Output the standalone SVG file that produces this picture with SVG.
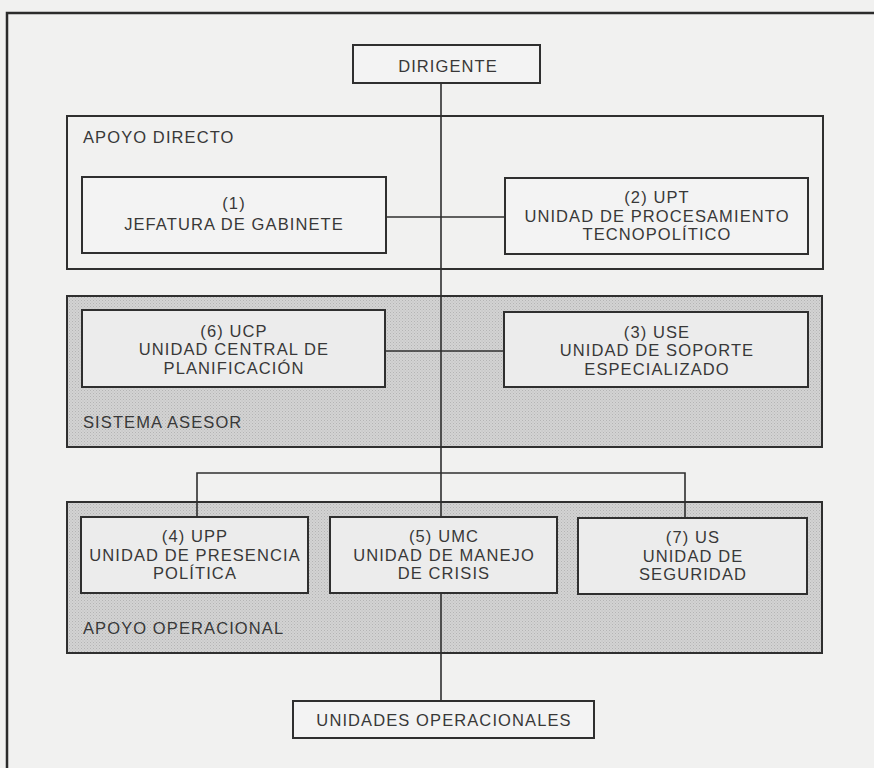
<svg xmlns="http://www.w3.org/2000/svg" width="874" height="768" viewBox="0 0 874 768">
  <defs>
    <!-- stippled grey used for the shaded groupings -->
    <pattern id="stipple" width="3" height="3" patternUnits="userSpaceOnUse">
      <rect width="3" height="3" fill="#d3d3d3"/>
      <rect x="0" y="0" width="1" height="1" fill="#b4b4b4"/>
      <rect x="1.5" y="1.5" width="1" height="1" fill="#bdbdbd"/>
    </pattern>
    <style>
      .frame { fill: none; stroke: #2b2b2b; stroke-width: 2.5; }
      .group { stroke: #2f2f2f; stroke-width: 2; }
      .plain { fill: none; }
      .shaded { fill: url(#stipple); }
      .box { fill: #f3f3f3; stroke: #2f2f2f; stroke-width: 2; }
      .box.inset { fill: #ececec; }
      .conn { fill: none; stroke: #2f2f2f; stroke-width: 1.6; }
      text { font-family: "Liberation Sans", Arial, sans-serif; font-size: 16.5px; fill: #383838; letter-spacing: 1.1px; }
      .c { text-anchor: middle; }
    </style>
  </defs>

  <!-- paper -->
  <rect width="874" height="768" fill="#f1f1f0"/>
  <path class="frame" d="M7,768 V13 H874"/>

  <!-- grouping containers -->
  <g id="apoyo-directo">
    <rect class="group plain" x="67" y="116" width="756" height="153"/>
    <text x="83" y="143">APOYO DIRECTO</text>
  </g>
  <g id="sistema-asesor">
    <rect class="group shaded" x="67" y="296" width="755" height="151"/>
    <text x="83" y="428">SISTEMA ASESOR</text>
  </g>
  <g id="apoyo-operacional">
    <rect class="group shaded" x="67" y="502" width="755" height="151"/>
    <text x="83" y="634">APOYO OPERACIONAL</text>
  </g>

  <!-- connectors -->
  <g id="connectors">
    <path class="conn" d="M441,83 V517"/>
    <path class="conn" d="M441,593 V701"/>
    <path class="conn" d="M386,217 H505"/>
    <path class="conn" d="M385,351 H504"/>
    <path class="conn" d="M197,517 V473 H685 V518"/>
  </g>

  <!-- units -->
  <g id="dirigente">
    <rect class="box" x="353" y="45" width="187" height="38"/>
    <text class="c" x="448" y="72">DIRIGENTE</text>
  </g>
  <g id="jefatura-gabinete">
    <rect class="box" x="82" y="177" width="304" height="76"/>
    <text class="c" x="234" y="209">(1)</text>
    <text class="c" x="234" y="230">JEFATURA DE GABINETE</text>
  </g>
  <g id="upt">
    <rect class="box" x="505" y="178" width="303" height="76"/>
    <text class="c" x="657" y="203">(2) UPT</text>
    <text class="c" x="657" y="221.5">UNIDAD DE PROCESAMIENTO</text>
    <text class="c" x="657" y="240">TECNOPOLÍTICO</text>
  </g>
  <g id="ucp">
    <rect class="box inset" x="82" y="310" width="303" height="77"/>
    <text class="c" x="234" y="336.5">(6) UCP</text>
    <text class="c" x="234" y="355">UNIDAD CENTRAL DE</text>
    <text class="c" x="234" y="373.5">PLANIFICACIÓN</text>
  </g>
  <g id="use">
    <rect class="box inset" x="504" y="312" width="304" height="75"/>
    <text class="c" x="657" y="337.5">(3) USE</text>
    <text class="c" x="657" y="356">UNIDAD DE SOPORTE</text>
    <text class="c" x="657" y="374.5">ESPECIALIZADO</text>
  </g>
  <g id="upp">
    <rect class="box inset" x="81" y="517" width="227" height="76"/>
    <text class="c" x="195" y="542">(4) UPP</text>
    <text class="c" x="195" y="560.5">UNIDAD DE PRESENCIA</text>
    <text class="c" x="195" y="579">POLÍTICA</text>
  </g>
  <g id="umc">
    <rect class="box inset" x="330" y="517" width="227" height="76"/>
    <text class="c" x="444" y="542">(5) UMC</text>
    <text class="c" x="444" y="560.5">UNIDAD DE MANEJO</text>
    <text class="c" x="444" y="579">DE CRISIS</text>
  </g>
  <g id="us">
    <rect class="box inset" x="578" y="518" width="229" height="76"/>
    <text class="c" x="693" y="543">(7) US</text>
    <text class="c" x="693" y="561.5">UNIDAD DE</text>
    <text class="c" x="693" y="580">SEGURIDAD</text>
  </g>
  <g id="unidades-operacionales">
    <rect class="box" x="293" y="701" width="301" height="37"/>
    <text class="c" x="444" y="726">UNIDADES OPERACIONALES</text>
  </g>
</svg>
